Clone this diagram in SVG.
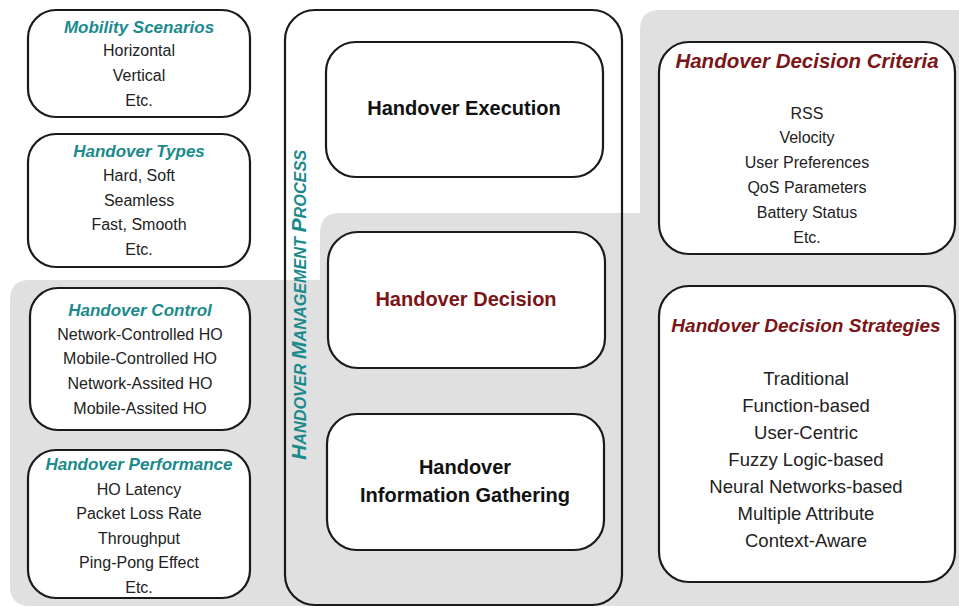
<svg xmlns="http://www.w3.org/2000/svg" width="959" height="609" viewBox="0 0 959 609">
<style>
.box{fill:#fff;stroke:#1a1a1a;stroke-width:2.2}
.t{font-family:"Liberation Sans",Arial,sans-serif;text-anchor:middle}
.teal{fill:#1b8a8c;font-weight:bold;font-style:italic;font-size:17px}
.red{fill:#7b1518;font-weight:bold;font-style:italic;font-size:19px}
.body{fill:#222;font-size:16px}
.body2{fill:#222;font-size:18.5px}
.big{fill:#111;font-weight:bold;font-size:20px}
</style>
<rect width="959" height="609" fill="#fff"/>
<path d="M10,300 Q10,280 30,280 L320,280 L320,233 Q320,213 340,213 L640,213 L640,30 Q640,10 660,10 L959,10 L959,606 L30,606 Q10,606 10,586 Z" fill="#e0e0e0"/>
<g id="connectors"></g>
<g id="mobility">
<rect class="box" x="28" y="10" width="222" height="107" rx="28"/>
<text class="t teal" x="139" y="33">Mobility Scenarios</text>
<text class="t body" x="139" y="56">Horizontal</text>
<text class="t body" x="139" y="81">Vertical</text>
<text class="t body" x="139" y="106">Etc.</text>
</g>
<g id="types">
<rect class="box" x="28" y="134" width="222" height="133" rx="28"/>
<text class="t teal" x="139" y="157">Handover Types</text>
<text class="t body" x="139" y="181">Hard, Soft</text>
<text class="t body" x="139" y="206">Seamless</text>
<text class="t body" x="139" y="230">Fast, Smooth</text>
<text class="t body" x="139" y="255">Etc.</text>
</g>
<g id="control">
<rect class="box" x="30" y="288" width="220" height="142" rx="28"/>
<text class="t teal" x="140" y="316">Handover Control</text>
<text class="t body" x="140" y="340">Network-Controlled HO</text>
<text class="t body" x="140" y="364">Mobile-Controlled HO</text>
<text class="t body" x="140" y="389">Network-Assited HO</text>
<text class="t body" x="140" y="414">Mobile-Assited HO</text>
</g>
<g id="performance">
<rect class="box" x="28" y="450" width="222" height="148" rx="28"/>
<text class="t teal" x="139" y="470">Handover Performance</text>
<text class="t body" x="139" y="495">HO Latency</text>
<text class="t body" x="139" y="519">Packet Loss Rate</text>
<text class="t body" x="139" y="544">Throughput</text>
<text class="t body" x="139" y="568">Ping-Pong Effect</text>
<text class="t body" x="139" y="593">Etc.</text>
</g>
<g id="process">
<rect x="285" y="10" width="337" height="595" rx="30" fill="none" stroke="#1a1a1a" stroke-width="2.2"/>
<text class="t" transform="translate(306,305) rotate(-90)" fill="#1b8a8c" font-weight="bold" font-style="italic" font-size="21px" textLength="310" lengthAdjust="spacingAndGlyphs">H<tspan font-size="16px">ANDOVER </tspan>M<tspan font-size="16px">ANAGEMENT </tspan>P<tspan font-size="16px">ROCESS</tspan></text>
</g>
<g id="execution">
<rect class="box" x="326" y="42" width="277" height="135" rx="30"/>
<text class="t big" x="464" y="115">Handover Execution</text>
</g>
<g id="decision">
<rect class="box" x="328" y="232" width="277" height="136" rx="30"/>
<text class="t big" x="466" y="306" style="fill:#7b1518">Handover Decision</text>
</g>
<g id="gathering">
<rect class="box" x="327" y="414" width="277" height="136" rx="30"/>
<text class="t big" x="465" y="474">Handover</text>
<text class="t big" x="465" y="502">Information Gathering</text>
</g>
<g id="criteria">
<rect class="box" x="659" y="42" width="296" height="212" rx="30"/>
<text class="t red" x="807" y="68" style="font-size:20.5px">Handover Decision Criteria</text>
<text class="t body" x="807" y="119">RSS</text>
<text class="t body" x="807" y="143">Velocity</text>
<text class="t body" x="807" y="168">User Preferences</text>
<text class="t body" x="807" y="193">QoS Parameters</text>
<text class="t body" x="807" y="218">Battery Status</text>
<text class="t body" x="807" y="243">Etc.</text>
</g>
<g id="strategies">
<rect class="box" x="659" y="286" width="296" height="296" rx="30"/>
<text class="t red" x="806" y="332">Handover Decision Strategies</text>
<text class="t body2" x="806" y="385">Traditional</text>
<text class="t body2" x="806" y="412">Function-based</text>
<text class="t body2" x="806" y="439">User-Centric</text>
<text class="t body2" x="806" y="466">Fuzzy Logic-based</text>
<text class="t body2" x="806" y="493">Neural Networks-based</text>
<text class="t body2" x="806" y="520">Multiple Attribute</text>
<text class="t body2" x="806" y="547">Context-Aware</text>
</g>
</svg>
